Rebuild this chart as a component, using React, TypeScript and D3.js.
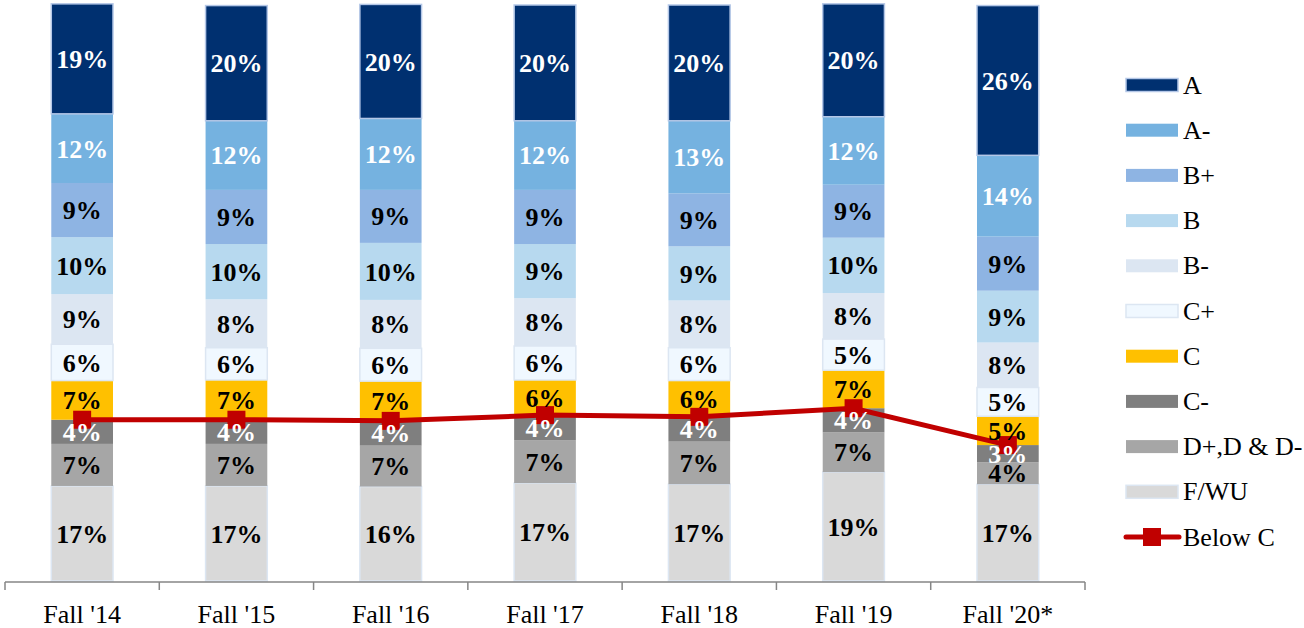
import React from 'react';
import * as d3 from 'd3';

// terms on the x axis
const terms = ["Fall '14", "Fall '15", "Fall '16", "Fall '17", "Fall '18", "Fall '19", "Fall '20*"];

// grade shares (%) per term
const gradeA = [19.1, 20.0, 19.8, 20.1, 20.1, 19.6, 26.0];
const gradeAminus = [12.0, 12.0, 12.4, 12.0, 12.6, 11.8, 14.1];
const gradeBplus = [9.4, 9.4, 9.2, 9.4, 9.2, 9.2, 9.4];
const gradeB = [9.9, 9.6, 9.9, 9.4, 9.4, 9.6, 9.0];
const gradeBminus = [8.7, 8.4, 8.4, 8.3, 8.2, 8.0, 7.8];
const gradeCplus = [6.3, 5.6, 5.7, 5.9, 5.7, 5.4, 5.0];
const gradeC = [6.8, 6.9, 6.9, 6.1, 6.3, 6.6, 5.0];
const gradeCminus = [4.2, 4.2, 4.3, 4.4, 4.3, 4.2, 3.0];
const gradeD = [7.3, 7.3, 7.1, 7.4, 7.4, 6.9, 3.8];
const gradeF = [16.5, 16.5, 16.4, 17.0, 16.8, 18.9, 16.8];

// bottom to top
const series = [
  { key: 'F/WU', values: gradeF, fill: '#D9D9D9', stroke: '#DCE6F2', text: '#000' },
  { key: 'D+,D & D-', values: gradeD, fill: '#A6A6A6', stroke: 'none', text: '#000' },
  { key: 'C-', values: gradeCminus, fill: '#7F7F7F', stroke: 'none', text: '#fff' },
  { key: 'C', values: gradeC, fill: '#FFC000', stroke: 'none', text: '#000' },
  { key: 'C+', values: gradeCplus, fill: '#F0F8FF', stroke: '#DCE6F2', text: '#000' },
  { key: 'B-', values: gradeBminus, fill: '#DCE6F2', stroke: 'none', text: '#000' },
  { key: 'B', values: gradeB, fill: '#B7D9EF', stroke: 'none', text: '#000' },
  { key: 'B+', values: gradeBplus, fill: '#8EB4E3', stroke: 'none', text: '#000' },
  { key: 'A-', values: gradeAminus, fill: '#75B2E0', stroke: 'none', text: '#fff' },
  { key: 'A', values: gradeA, fill: '#003070', stroke: '#B4C7E7', text: '#fff' },
];

const belowC = terms.map((_, i) => gradeCminus[i] + gradeD[i] + gradeF[i]);

const FONT = '"Liberation Serif", "Times New Roman", serif';

export default function App() {
  const width = 1304;
  const height = 628;

  const x = d3.scaleBand<string>().domain(terms).range([5, 1085]);
  const y = d3.scaleLinear().domain([0, 100]).range([581, 5]);
  const barW = x.bandwidth() * 0.4;
  const cx = (t: string) => (x(t) ?? 0) + x.bandwidth() / 2;

  const table = terms.map((t, i) => {
    const row: Record<string, number | string> = { term: t };
    series.forEach(s => { row[s.key] = s.values[i]; });
    return row;
  });
  const stacked = d3.stack<Record<string, number | string>>()
    .keys(series.map(s => s.key))(table as any);

  const line = d3.line<number>()
    .x((_, i) => cx(terms[i]))
    .y(d => y(d));

  const legendItems = [...series].reverse();
  const legendY = (i: number) => 85 + i * 45.2;

  return (
    <svg width={width} height={height} style={{ position: 'absolute', left: 0, top: 0 }}
      fontFamily={FONT}>
      {stacked.map((layer, si) => (
        <g key={layer.key}>
          {layer.map((d, i) => (
            <rect key={i}
              x={cx(terms[i]) - barW / 2}
              y={y(d[1])}
              width={barW}
              height={y(d[0]) - y(d[1])}
              fill={series[si].fill}
              stroke={series[si].stroke}
              strokeWidth={1.5} />
          ))}
        </g>
      ))}

      {/* x axis */}
      <g stroke="#868686" strokeWidth={1.5} fill="none">
        <line x1={5} x2={1085} y1={582} y2={582} />
        {d3.range(terms.length + 1).map(i => {
          const tx = 5 + i * x.step();
          return <line key={i} x1={tx} x2={tx} y1={582} y2={590} />;
        })}
      </g>
      {terms.map(t => (
        <text key={t} x={cx(t)} y={623} textAnchor="middle" fontSize={26} fill="#000">{t}</text>
      ))}

      {/* below C line */}
      <path d={line(belowC) ?? ''} fill="none" stroke="#C00000" strokeWidth={5} />
      {belowC.map((v, i) => (
        <rect key={i} x={cx(terms[i]) - 9} y={y(v) - 9} width={18} height={18} fill="#C00000" />
      ))}

      {/* segment labels */}
      {stacked.map((layer, si) => (
        <g key={layer.key}>
          {layer.map((d, i) => (
            <text key={i}
              x={cx(terms[i])}
              y={(y(d[0]) + y(d[1])) / 2}
              dy="0.35em"
              textAnchor="middle"
              fontSize={26}
              fontWeight="bold"
              fill={series[si].text}>
              {Math.round(d[1] - d[0])}%
            </text>
          ))}
        </g>
      ))}

      {/* legend */}
      {legendItems.map((s, i) => (
        <g key={s.key} transform={`translate(1126,${legendY(i)})`}>
          <rect x={0} y={-6.5} width={52} height={13} fill={s.fill}
            stroke={s.stroke} strokeWidth={1.5} />
          <text x={57} y={0} dy="0.33em" fontSize={26} fill="#000">{s.key}</text>
        </g>
      ))}
      <g transform={`translate(1126,${legendY(legendItems.length)})`}>
        <line x1={0} x2={53} y1={0} y2={0} stroke="#C00000" strokeWidth={5} strokeLinecap="round" />
        <rect x={17} y={-9} width={18} height={18} fill="#C00000" />
        <text x={57} y={0} dy="0.33em" fontSize={26} fill="#000">Below C</text>
      </g>
    </svg>
  );
}
